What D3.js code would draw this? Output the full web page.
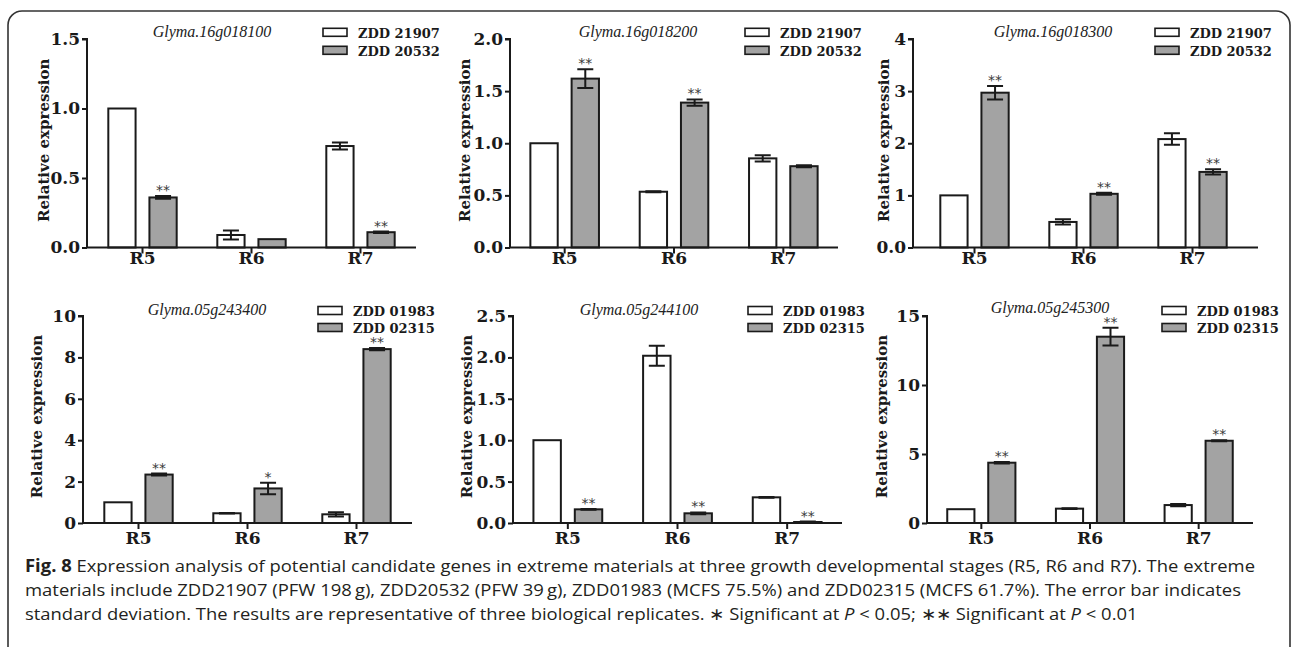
<!DOCTYPE html>
<html>
<head>
<meta charset="utf-8">
<script src="https://cdn.jsdelivr.net/npm/d3@7"></script>
<style>
  body { margin: 0; background: #fff; }
  svg { display: block; }
  .tick-lbl, .x-lbl, .y-title, .leg { font-family: "DejaVu Serif", serif; font-weight: bold; fill: #1a1a1a; }
  .gene { font-family: "Liberation Serif", serif; font-style: italic; fill: #222; }
  .star { font-family: "DejaVu Sans", sans-serif; fill: #3a3a3a; }
  .caption { font-family: "Open Sans", "Noto Sans", sans-serif; fill: #231f20; }
</style>
</head>
<body>
<div id="chart"></div>
<script>
// data
const stages = ["R5", "R6", "R7"];
const genes = ["Glyma.16g018100", "Glyma.16g018200", "Glyma.16g018300",
               "Glyma.05g243400", "Glyma.05g244100", "Glyma.05g245300"];
const linesTop = ["ZDD 21907", "ZDD 20532"];
const linesBottom = ["ZDD 01983", "ZDD 02315"];

const yMax = [1.5, 2.0, 4, 10, 2.5, 15];
const yTicks = [[0, 0.5, 1, 1.5], [0, 0.5, 1, 1.5, 2], [0, 1, 2, 3, 4],
                [0, 2, 4, 6, 8, 10], [0, 0.5, 1, 1.5, 2, 2.5], [0, 5, 10, 15]];
const yTickLabels = [["0.0", "0.5", "1.0", "1.5"], ["0.0", "0.5", "1.0", "1.5", "2.0"],
                     ["0.0", "1", "2", "3", "4"], ["0", "2", "4", "6", "8", "10"],
                     ["0.0", "0.5", "1.0", "1.5", "2.0", "2.5"], ["0", "5", "10", "15"]];

// first line (white bars)
const meanA = [[1.0, 0.09, 0.73], [1.0, 0.535, 0.855], [1.0, 0.49, 2.08],
               [1.0, 0.47, 0.42], [1.0, 2.02, 0.31], [1.0, 1.04, 1.3]];
const sdA = [[0, 0.033, 0.025], [0, 0.005, 0.03], [0, 0.05, 0.11],
             [0, 0.01, 0.1], [0, 0.12, 0.005], [0, 0.02, 0.08]];
// second line (grey bars)
const meanB = [[0.36, 0.06, 0.11], [1.62, 1.39, 0.78], [2.97, 1.03, 1.45],
               [2.34, 1.67, 8.4], [0.165, 0.117, 0.012], [4.37, 13.5, 5.96]];
const sdB = [[0.01, 0, 0.005], [0.09, 0.03, 0.01], [0.13, 0.02, 0.05],
             [0.05, 0.28, 0.05], [0.005, 0.01, 0.005], [0.05, 0.64, 0.03]];
const sigB = [["**", "", "**"], ["**", "**", ""], ["**", "**", "**"],
              ["**", "*", "**"], ["**", "**", "**"], ["**", "**", "**"]];

// panel placement on the page
const rows = [
  {top: 39, bot: 247.5, titleY: 37, legY: 32.3, legGap: 18, xlabY: 264},
  {top: 316, bot: 523, titleY: 315, legY: 310.5, legGap: 17, xlabY: 544}
];
const panels = [
  {ax: 87,  b0: 88,  b1: 415,  ae: 416,  row: 0, lx: 323,  tx: 212,  ty: 0,  yl: 44},
  {ax: 510, b0: 510, b1: 838,  ae: 838,  row: 0, lx: 745,  tx: 638,  ty: 0,  yl: 465},
  {ax: 913, b0: 920, b1: 1247, ae: 1258, row: 0, lx: 1155, tx: 1053, ty: 0,  yl: 884},
  {ax: 83,  b0: 84,  b1: 411,  ae: 412,  row: 1, lx: 318,  tx: 207,  ty: 0,  yl: 37},
  {ax: 513, b0: 513, b1: 842,  ae: 842,  row: 1, lx: 748,  tx: 639,  ty: 0,  yl: 467},
  {ax: 927, b0: 927, b1: 1253, ae: 1253, row: 1, lx: 1162, tx: 1050, ty: -2, yl: 882}
];

const W = 1293, H = 647;
const INK = "#1a1a1a", GREY = "#a3a3a3";

const svg = d3.select("#chart").append("svg").attr("width", W).attr("height", H);

// rounded frame, open at the bottom edge of the page
svg.append("rect").attr("x", 8).attr("y", 11).attr("width", 1282).attr("height", 700)
   .attr("rx", 14).attr("fill", "none").attr("stroke", "#333").attr("stroke-width", 1.6);

panels.forEach((p, k) => {
  const r = rows[p.row];
  const g = svg.append("g");
  const legend = p.row === 0 ? linesTop : linesBottom;

  const x = d3.scaleBand().domain(stages).range([p.b0, p.b1]);
  const xs = d3.scaleBand().domain([0, 1]).range([0, x.bandwidth()])
               .paddingInner(0.337).paddingOuter(0.494);
  const y = d3.scaleLinear().domain([0, yMax[k]]).range([r.bot, r.top]);

  const data = stages.map((s, i) => [
    {s, j: 0, m: meanA[k][i], sd: sdA[k][i], sig: ""},
    {s, j: 1, m: meanB[k][i], sd: sdB[k][i], sig: sigB[k][i]}
  ]).flat();

  // bars
  g.selectAll("rect.bar").data(data).join("rect").attr("class", "bar")
    .attr("x", d => x(d.s) + xs(d.j)).attr("width", xs.bandwidth())
    .attr("y", d => y(d.m)).attr("height", d => y(0) - y(d.m))
    .attr("fill", d => d.j ? GREY : "#fff").attr("stroke", INK).attr("stroke-width", 2);

  // error bars
  const eb = data.filter(d => d.sd > 0);
  const cx = d => x(d.s) + xs(d.j) + xs.bandwidth() / 2;
  g.selectAll("path.err").data(eb).join("path").attr("class", "err")
    .attr("d", d => {
      const c = cx(d), t = y(d.m + d.sd), b = y(d.m - d.sd);
      return `M${c - 8},${t}H${c + 8}M${c},${t}V${b}M${c - 8},${b}H${c + 8}`;
    })
    .attr("fill", "none").attr("stroke", INK).attr("stroke-width", 2);

  // significance marks
  g.selectAll("text.star").data(data.filter(d => d.sig)).join("text").attr("class", "star")
    .attr("x", cx).attr("y", d => y(d.m + d.sd) - 1)
    .attr("text-anchor", "middle").attr("font-size", 14).text(d => d.sig);

  // y axis
  const yAxis = g.append("g").attr("transform", `translate(${p.ax},0)`)
    .call(d3.axisLeft(y).tickValues(yTicks[k]).tickSize(5).tickPadding(2)
            .tickFormat((v, i) => yTickLabels[k][i]));
  yAxis.select(".domain").attr("d", `M-5,${r.top}H0V${r.bot}`).attr("stroke", INK).attr("stroke-width", 2);
  yAxis.selectAll(".tick line").attr("stroke", INK).attr("stroke-width", 2);
  yAxis.selectAll(".tick text").attr("class", "tick-lbl").attr("font-size", 17).attr("font-family", null)
       .attr("fill", INK);

  // x axis
  const xAxis = g.append("g").attr("transform", `translate(0,${r.bot})`)
    .call(d3.axisBottom(x).tickSize(6).tickFormat(""));
  xAxis.select(".domain").attr("d", `M${p.ax},0H${p.ae}`).attr("stroke", INK).attr("stroke-width", 2);
  xAxis.selectAll(".tick line").attr("stroke", INK).attr("stroke-width", 2);

  g.selectAll("text.x-lbl").data(stages).join("text").attr("class", "x-lbl")
    .attr("x", s => x(s) + x.bandwidth() / 2).attr("y", r.xlabY)
    .attr("text-anchor", "middle").attr("font-size", 17).text(s => s);

  // y title
  g.append("text").attr("class", "y-title")
    .attr("transform", `translate(${p.yl},${(r.top + r.bot) / 2 - 3}) rotate(-90)`)
    .attr("text-anchor", "middle").attr("dy", "0.35em").attr("font-size", 15)
    .text("Relative expression");

  // gene title
  g.append("text").attr("class", "gene").attr("x", p.tx).attr("y", r.titleY + p.ty)
    .attr("text-anchor", "middle").attr("font-size", 16).text(genes[k]);

  // legend
  legend.forEach((name, j) => {
    const cy = r.legY + j * r.legGap;
    g.append("rect").attr("x", p.lx).attr("y", cy - 4).attr("width", 24).attr("height", 8)
      .attr("fill", j ? GREY : "#fff").attr("stroke", INK).attr("stroke-width", 1.6);
    g.append("text").attr("class", "leg").attr("x", p.lx + 35).attr("y", cy + 5.3)
      .attr("font-size", 13).text(name);
  });
});

// caption
const cap = svg.append("g").attr("class", "caption").attr("font-size", 17);
const l1 = cap.append("text").attr("x", 25).attr("y", 572);
l1.append("tspan").attr("font-weight", "bold").text("Fig. 8");
l1.append("tspan").text(" Expression analysis of potential candidate genes in extreme materials at three growth developmental stages (R5, R6 and R7). The extreme");
const l2 = cap.append("text").attr("x", 25).attr("y", 596)
  .text("materials include ZDD21907 (PFW 198\u2009g), ZDD20532 (PFW 39\u2009g), ZDD01983 (MCFS 75.5%) and ZDD02315 (MCFS 61.7%). The error bar indicates");
const l3 = cap.append("text").attr("x", 25).attr("y", 620);
l3.append("tspan").text("standard deviation. The results are representative of three biological replicates. \u2217 Significant at ");
l3.append("tspan").attr("font-style", "italic").text("P");
l3.append("tspan").text(" < 0.05; \u2217\u2217 Significant at ");
l3.append("tspan").attr("font-style", "italic").text("P");
l3.append("tspan").text(" < 0.01");

// squeeze the caption horizontally to the width of the printed lines
const w1 = l1.node().getComputedTextLength();
const f = 1230 / w1;
l1.attr("textLength", 1230).attr("lengthAdjust", "spacingAndGlyphs");
l2.attr("textLength", 1216).attr("lengthAdjust", "spacingAndGlyphs");
l3.attr("textLength", l3.node().getComputedTextLength() * f).attr("lengthAdjust", "spacingAndGlyphs");
</script>
</body>
</html>
